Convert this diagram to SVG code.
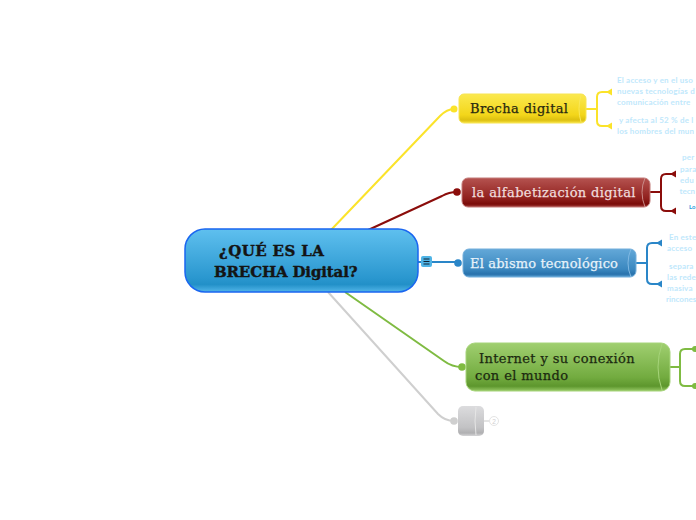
<svg xmlns="http://www.w3.org/2000/svg" width="696" height="520" viewBox="0 0 696 520">
<style>
.conn{fill:none;stroke-width:2}
.note{font-family:"Lato","Noto Sans",sans-serif;font-size:8px;font-weight:700;fill:#bfe8fc;letter-spacing:.2px}
.t{font-family:"DejaVu Serif",serif;font-size:13px;letter-spacing:.38px;stroke-width:.25px}
.c{font-family:"DejaVu Serif",serif;font-size:15px;font-weight:bold;fill:#141414;stroke:#141414;stroke-width:.4px}
</style>
<defs>
<linearGradient id="gy" x1="0" y1="0" x2="0" y2="1"><stop offset="0" stop-color="#fbe94f"/><stop offset=".72" stop-color="#f3d61a"/><stop offset=".9" stop-color="#ddc010"/><stop offset="1" stop-color="#f5e040"/></linearGradient>
<linearGradient id="gr" x1="0" y1="0" x2="0" y2="1"><stop offset="0" stop-color="#b55350"/><stop offset=".72" stop-color="#8f1f1c"/><stop offset=".9" stop-color="#7a0b09"/><stop offset="1" stop-color="#a5403d"/></linearGradient>
<linearGradient id="gb" x1="0" y1="0" x2="0" y2="1"><stop offset="0" stop-color="#63a8d8"/><stop offset=".72" stop-color="#3b88c0"/><stop offset=".9" stop-color="#2872ac"/><stop offset="1" stop-color="#5aa0d2"/></linearGradient>
<linearGradient id="gg" x1="0" y1="0" x2="0" y2="1"><stop offset="0" stop-color="#a0cf70"/><stop offset=".72" stop-color="#72ab3f"/><stop offset=".9" stop-color="#5d962d"/><stop offset="1" stop-color="#96c865"/></linearGradient>
<linearGradient id="gs" x1="0" y1="0" x2="0" y2="1"><stop offset="0" stop-color="#dcdcde"/><stop offset=".72" stop-color="#c2c2c4"/><stop offset=".9" stop-color="#b0b0b2"/><stop offset="1" stop-color="#d5d5d7"/></linearGradient>
<linearGradient id="gc" x1="0" y1="0" x2="0" y2="1"><stop offset="0" stop-color="#5fc0ef"/><stop offset=".78" stop-color="#2a97cf"/><stop offset=".88" stop-color="#2290c8"/><stop offset="1" stop-color="#52b5e8"/></linearGradient>
</defs>
<g id="connectors">
<path class="conn" stroke="#fbe32a" d="M330 231L440 116Q447 109 454 109"/>
<path class="conn" stroke="#8b0d0b" d="M366 231L442 196Q449 192 457 192"/>
<path class="conn" stroke="#2a86c8" d="M418 262H458"/>
<path class="conn" stroke="#7fbb42" d="M345 292L444 361Q452 367 462 367"/>
<path class="conn" stroke="#cfcfcf" d="M328 292L438 414Q445 421 454 421"/>
<path class="conn" stroke="#fbe32a" d="M586 109H597M609 92H602Q597 92 597 97V121Q597 126 602 126H609"/>
<path class="conn" stroke="#8b0d0b" d="M650 192H661M674 174H666Q661 174 661 179V206Q661 211 666 211H674"/>
<path class="conn" stroke="#2a86c8" d="M636 263H647M660 243H652Q647 243 647 248V279Q647 284 652 284H660"/>
<path class="conn" stroke="#7fbb42" d="M670 367H680M696 349H685Q680 349 680 354V381Q680 386 685 386H696"/>
<path class="conn" stroke="#e4e4e4" d="M484 421H490"/>
</g>
<g id="ends">
<circle cx="454" cy="109" r="3.500" fill="#fbe32a"/><circle cx="457" cy="192" r="3.800" fill="#8b0d0b"/><circle cx="458" cy="263" r="3.800" fill="#2a86c8"/><circle cx="462" cy="367" r="3.800" fill="#7fbb42"/><circle cx="454" cy="421" r="3.800" fill="#cfcfcf"/>
<path d="M606 92l6-3.500v7zM606 126l6-3.500v7z" fill="#fbe32a"/>
<path d="M670 174l6-3.500v7zM670 211l6-3.500v7z" fill="#8b0d0b"/>
<path d="M656 243l6-3.500v7zM656 284l6-3.500v7z" fill="#2a86c8"/>
<circle cx="695" cy="349" r="3" fill="#7fbb42"/><circle cx="695" cy="386" r="3" fill="#7fbb42"/>
</g>
<g id="node-center">
<rect x="185" y="229" width="233" height="63" rx="20" fill="url(#gc)" stroke="#1a66f0" stroke-width="1.500"/>
<text class="c"><tspan x="219" y="256" letter-spacing=".4">¿QUÉ ES LA</tspan><tspan x="214" y="277" letter-spacing="-.15">BRECHA Digital?</tspan></text>
</g>
<g id="collapse">
<rect x="421" y="256" width="11" height="11" rx="2" fill="#4fb4e6"/>
<path d="M423.500 259h6M423.500 261.500h6M423.500 264h6" stroke="#123" stroke-width="1"/>
</g>
<g id="node-brecha">
<rect x="459" y="94" width="127" height="29" rx="5" fill="url(#gy)" stroke="#f7e453"/>
<path d="M581 95Q577 109 581 122" fill="none" stroke="#f9e85a"/>
<text class="t" x="470" y="113" fill="#2a2a10" stroke="#2a2a10">Brecha digital</text>
</g>
<g id="node-alfabetizacion">
<rect x="462" y="178" width="188" height="29" rx="6" fill="url(#gr)" stroke="#c27a78"/>
<path d="M645 178Q639 192 645 207" fill="none" stroke="#c98b89"/>
<text class="t" x="472" y="197" fill="#f0dcdc" stroke="#f0dcdc">la alfabetización digital</text>
</g>
<g id="node-abismo">
<rect x="463" y="249" width="173" height="28" rx="6" fill="url(#gb)" stroke="#73aedb"/>
<path d="M631 249Q625 263 631 277" fill="none" stroke="#7fb8e2"/>
<text class="t" x="470" y="268" fill="#e6f2fa" stroke="#e6f2fa" style="letter-spacing:.15px">El abismo tecnológico</text>
</g>
<g id="node-internet">
<rect x="466" y="343" width="204" height="48" rx="9" fill="url(#gg)" stroke="#a6d47a"/>
<path d="M662 344Q654 367 662 390" fill="none" stroke="#a6d47a"/>
<text class="t" fill="#1c2a10" stroke="#1c2a10"><tspan x="479" y="363">Internet y su conexión</tspan><tspan x="475" y="380">con el mundo</tspan></text>
</g>
<g id="node-gris">
<rect x="458" y="406" width="26" height="30" rx="5" fill="url(#gs)"/>
<path d="M476 407Q474 421 476 435" fill="none" stroke="#e6e6e6"/>
<circle cx="494" cy="421" r="4.500" fill="#fff" stroke="#e4e4e4"/>
<text x="494" y="423.500" text-anchor="middle" font-family="Liberation Sans,sans-serif" font-size="6.500" fill="#d0d0d0">2</text>
</g>
<g id="notes">
<text class="note"><tspan x="617" y="83">El acceso y en el uso</tspan><tspan x="617" y="94">nuevas tecnologías d</tspan><tspan x="617" y="105">comunicación entre</tspan><tspan x="619" y="123">y afecta al 52 % de l</tspan><tspan x="617" y="134">los hombres del mun</tspan></text>
<text class="note"><tspan x="682" y="160">per</tspan><tspan x="680" y="172">para</tspan><tspan x="680" y="183">edu</tspan><tspan x="679.500" y="194" letter-spacing="0">tecn</tspan></text>
<text x="689" y="209" font-family="Lato,Noto Sans,sans-serif" font-size="6" font-weight="bold" fill="#2aa0e0">Lo</text>
<text class="note"><tspan x="669" y="240">En este</tspan><tspan x="667" y="251">acceso</tspan><tspan x="669" y="269">separa</tspan><tspan x="667" y="280">las rede</tspan><tspan x="667" y="291">masiva</tspan><tspan x="666" y="302" letter-spacing="0">rincones</tspan></text>
</g>
</svg>
